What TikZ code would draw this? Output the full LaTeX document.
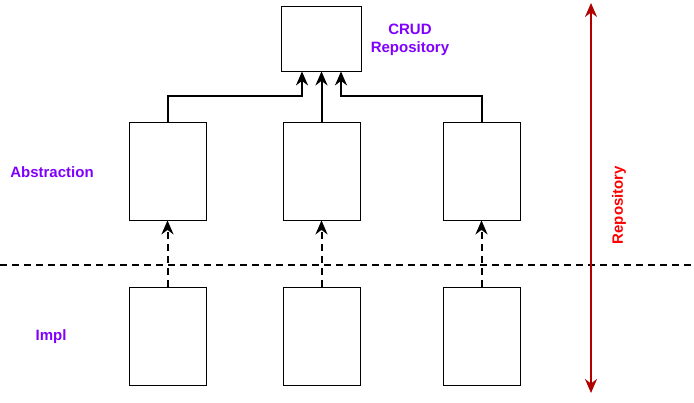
\documentclass[tikz,border=0pt]{standalone}
\usepackage{fontspec}
\setmainfont{Liberation Sans}
\usetikzlibrary{arrows.meta}
\definecolor{lila}{HTML}{7F00FF}
\definecolor{dunkelrot}{HTML}{B20000}

\begin{document}
\begin{tikzpicture}[x=1pt, y=-1pt, draw=black,
	box/.style={draw, line width=0.8pt, minimum width=77pt, minimum height=98pt, inner sep=0pt},
	txt/.style={text=lila, font=\bfseries\fontsize{15}{18}\selectfont, align=center},
	spitze/.tip={Stealth[length=14pt, width=12pt, inset=4.5pt]},
	pfeil/.style={line width=2pt, -spitze},
	strich/.style={dash pattern=on 7pt off 5pt}]
	\useasboundingbox (0,0) rectangle (694,403);
	\node[box, minimum width=80pt, minimum height=65pt] (crud) at (321.5, 38.5) {};
	\node[txt] (tcrud) at (410, 40) {CRUD\\Repository};
	\node[box] (al) at (167.5,171) {};
	\node[box] (am) at (321.5,171) {};
	\node[box] (ar) at (481.5,171) {};
	\node[box] (il) at (167.5,336) {};
	\node[box] (im) at (321.5,336) {};
	\node[box] (ir) at (481.5,336) {};
	\node[txt] (tabs) at (52,172) {Abstraction};
	\node[txt] (timpl) at (51,337) {Impl};
	\draw[pfeil] (al.north) |- (302,96) -- ([xshift=-19.5pt]crud.south);
	\draw[pfeil] (am.north) -- (crud.south);
	\draw[pfeil] (ar.north) |- (341,96) -- ([xshift=19.5pt]crud.south);
	\draw[pfeil, strich] (il.north) -- (al.south);
	\draw[pfeil, strich] (im.north) -- (am.south);
	\draw[pfeil, strich] (ir.north) -- (ar.south);
	\coordinate (links) at (0,265);
	\coordinate (rechts) at (694,265);
	\draw[line width=2pt, strich] (links) -- (rechts);
	\coordinate (oben) at (591,3);
	\coordinate (unten) at (591,393);
	\draw[dunkelrot, line width=2pt, spitze-spitze] (oben) -- (unten);
	\node[txt, text=red, rotate=90] (trepo) at (619,205) {Repository};
\end{tikzpicture}
\end{document}
